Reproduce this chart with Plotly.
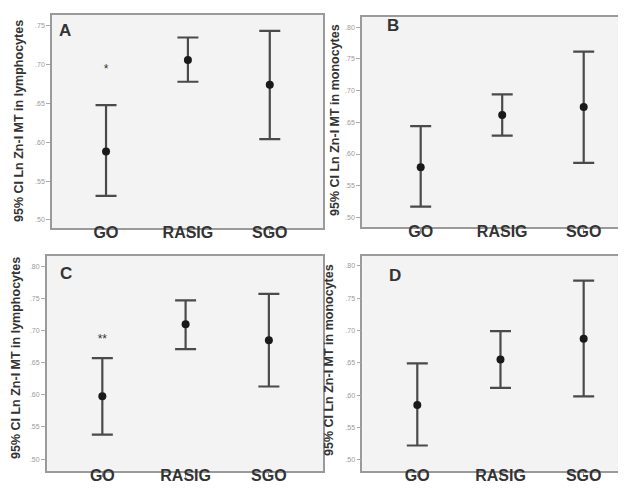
import plotly.graph_objects as go

categories = ["GO", "RASIG", "SGO"]

# Panel A: lymphocytes
a_mean = [0.588, 0.706, 0.674]
a_upper = [0.648, 0.735, 0.7435]
a_lower = [0.531, 0.678, 0.604]
a_star_y = [0.6935]
a_star = ["*"]

# Panel B: monocytes
b_mean = [0.579, 0.6615, 0.674]
b_upper = [0.644, 0.694, 0.7615]
b_lower = [0.517, 0.629, 0.586]

# Panel C: lymphocytes
c_mean = [0.598, 0.710, 0.685]
c_upper = [0.657, 0.747, 0.757]
c_lower = [0.538, 0.671, 0.613]
c_star_y = [0.685]
c_star = ["**"]

# Panel D: monocytes
d_mean = [0.5845, 0.655, 0.687]
d_upper = [0.649, 0.699, 0.777]
d_lower = [0.522, 0.611, 0.598]

ticks_a = [0.50, 0.55, 0.60, 0.65, 0.70, 0.75]
ticktext_a = [".50", ".55", ".60", ".65", ".70", ".75"]
ticks_bcd = [0.50, 0.55, 0.60, 0.65, 0.70, 0.75, 0.80]
ticktext_bcd = [".50", ".55", ".60", ".65", ".70", ".75", ".80"]

W, H = 626, 488
LINE = "#4a4a4a"
FRAME = "#9a9a9a"

fig = go.Figure()

panels = [
    ("", a_mean, a_upper, a_lower),
    ("2", b_mean, b_upper, b_lower),
    ("3", c_mean, c_upper, c_lower),
    ("4", d_mean, d_upper, d_lower),
]
for suf, mean, up, lo in panels:
    fig.add_trace(go.Scatter(
        x=categories, y=mean, mode="markers",
        xaxis="x" + suf, yaxis="y" + suf,
        marker=dict(color="#1a1a1a", size=8),
        error_y=dict(type="data", symmetric=False,
                     array=[u - m for u, m in zip(up, mean)],
                     arrayminus=[m - l for m, l in zip(mean, lo)],
                     color=LINE, thickness=2.2, width=10.5),
        showlegend=False, hoverinfo="skip"))

fig.add_trace(go.Scatter(x=categories[:1], y=a_star_y, mode="text", text=a_star,
                         textfont=dict(size=12, color="#333", family="Arial"),
                         xaxis="x", yaxis="y", showlegend=False))
fig.add_trace(go.Scatter(x=categories[:1], y=c_star_y, mode="text", text=c_star,
                         textfont=dict(size=12, color="#333", family="Arial"),
                         xaxis="x3", yaxis="y3", showlegend=False))

def xa(dom, rng, anchor):
    return dict(domain=dom, range=rng, anchor=anchor, type="category",
                showline=True, linecolor=FRAME, linewidth=1.5, mirror=True,
                showgrid=False, zeroline=False, ticks="outside", ticklen=5,
                tickcolor=FRAME, tickwidth=1,
                tickvals=categories,
                ticktext=["<b>" + c + "</b>" for c in categories],
                ticklabelstandoff=-16,
                tickfont=dict(family="Arial", size=16, color="#333"),
                categoryorder="array", categoryarray=categories)

def ya(dom, rng, anchor, tv, tt, mirror):
    return dict(domain=dom, range=rng, anchor=anchor,
                showline=True, linecolor=FRAME, linewidth=1.5, mirror=mirror,
                showgrid=False, zeroline=False, ticks="outside", ticklen=4,
                tickcolor="#aaa", tickwidth=1,
                tickvals=tv, ticktext=tt,
                tickfont=dict(family="Arial", size=7, color="#999"))

def px(x): return x / W
def py(y): return 1 - y / H

fig.update_layout(
    width=W, height=H,
    margin=dict(l=0, r=0, t=0, b=0),
    paper_bgcolor="white", plot_bgcolor="#f3f3f3",
    xaxis=xa([px(44), px(315)], [-0.66, 2.65], "y"),
    yaxis=ya([py(220), py(7)], [0.4896, 0.764], "x", ticks_a, ticktext_a, True),
    xaxis2=xa([px(354), 1.0], [-0.72, 2.617], "y2"),
    yaxis2=ya([py(219), py(9)], [0.485, 0.816], "x2", ticks_bcd, ticktext_bcd, False),
    xaxis3=xa([px(38.7), px(315)], [-0.668, 2.65], "y3"),
    yaxis3=ya([py(462.7), py(247.7)], [0.482, 0.8165], "x3", ticks_bcd, ticktext_bcd, True),
    xaxis4=xa([px(354.3), 1.0], [-0.661, 2.605], "y4"),
    yaxis4=ya([py(462.7), py(247.7)], [0.483, 0.8155], "x4", ticks_bcd, ticktext_bcd, False),
)

titles = [
    (11, 113, "95% CI Ln Zn-I MT in lymphocytes"),
    (327, 112, "95% CI Ln Zn-I MT in monocytes"),
    (8, 350, "95% CI Ln Zn-I MT in lymphocytes"),
    (321, 352, "95% CI Ln Zn-I MT in monocytes"),
]
for x, y, t in titles:
    fig.add_annotation(x=px(x), y=py(y), xref="paper", yref="paper",
                       text="<b>" + t + "</b>", textangle=-90, showarrow=False,
                       xanchor="center", yanchor="middle",
                       font=dict(family="Arial", size=12.5, color="#333"))

letters = [(57, 23, "A"), (385, 17, "B"), (58, 265, "C"), (387, 267, "D")]
for x, y, t in letters:
    fig.add_annotation(x=px(x), y=py(y), xref="paper", yref="paper",
                       text="<b>" + t + "</b>", showarrow=False,
                       xanchor="center", yanchor="middle",
                       font=dict(family="Arial", size=17, color="#333"))

fig.write_html("out.html")
